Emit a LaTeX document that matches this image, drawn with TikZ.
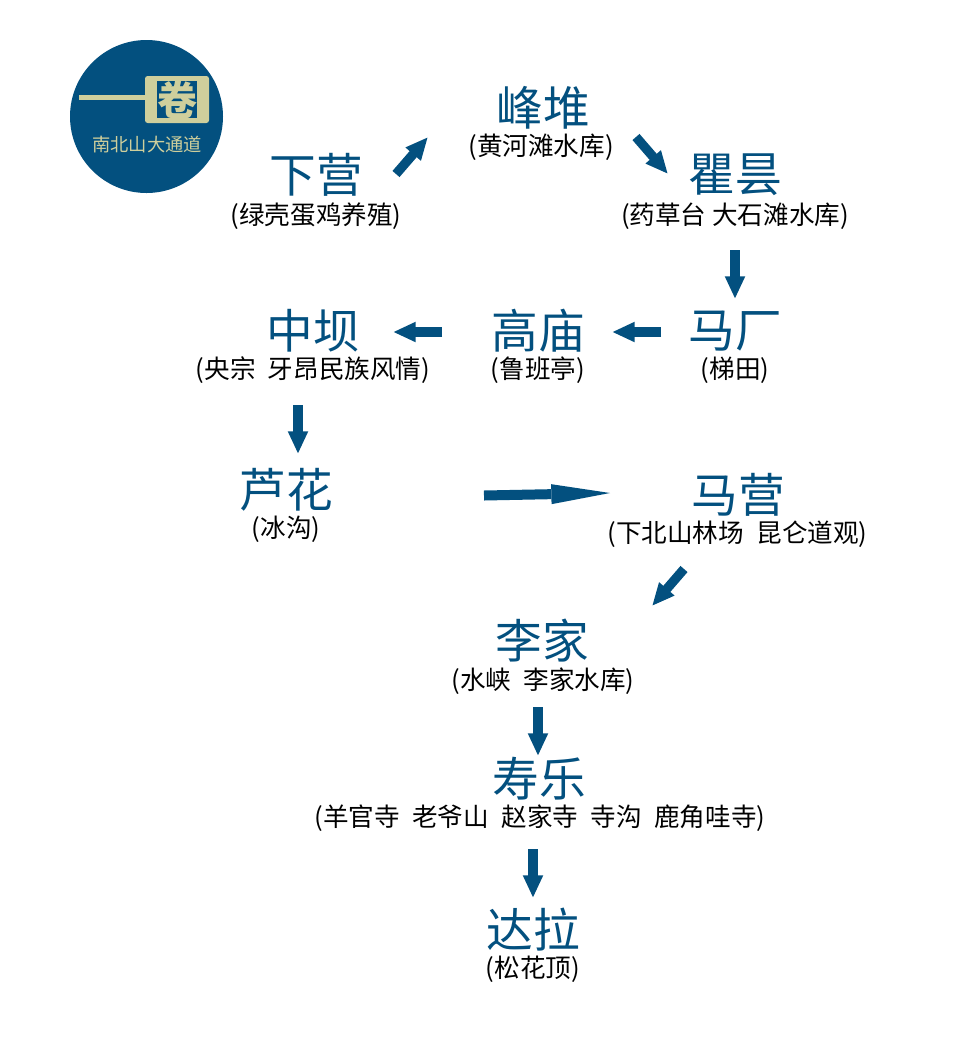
\documentclass[tikz,border=0pt]{standalone}
\usepackage{fontspec}
\setmainfont{Noto Sans CJK SC}
\usetikzlibrary{calc,positioning,arrows.meta}
\definecolor{blueroad}{HTML}{03507F}
\definecolor{paleseal}{HTML}{CFCF9C}
\newcommand{\widegap}{\hspace{0.26em}}
\tikzset{
    stop/.style={text=blueroad, font=\fontsize{35}{35}\selectfont, inner sep=0pt},
    sub/.style={text=black, font=\fontsize{19.2}{19.2}\selectfont, inner sep=0pt},
    way/.style={-{Triangle[length=17pt,width=14pt]}, line width=7pt, draw=blueroad}
}
\begin{document}
\begin{tikzpicture}[x=0.75pt,y=-0.75pt]
    \useasboundingbox (0,0) rectangle (960,1040);
    % Badge top left
    \fill[blueroad] (146.5,116.5) circle (76.5);
    \fill[paleseal] (79,95) rectangle (145,100);
    \fill[paleseal, rounded corners=2pt] (145,76) rectangle (209,123);
    \fill[blueroad] (157,81) rectangle (197,118);
    \node[inner sep=0pt, text=paleseal, font=\fontsize{30}{30}\selectfont\bfseries] (seal) at (177,99.5) {卷};
    \node[inner sep=0pt, text=paleseal, font=\fontsize{13.7}{13.7}\selectfont] (badge) at (147,145) {南北山大通道};
    % Stops along the road
    \node[stop] (xiaying) at (316,175) {下营};
    \node[sub] (xiayingsub) at (316,216) {(绿壳蛋鸡养殖)};
    \node[stop] (fengdui) at (543,108) {峰堆};
    \node[sub] (fengduisub) at (541,147) {(黄河滩水库)};
    \node[stop] (qutan) at (735,175) {瞿昙};
    \node[sub] (qutansub) at (735,216) {(药草台 大石滩水库)};
    \node[stop] (machang) at (735,331) {马厂};
    \node[sub] (machangsub) at (735,370) {(梯田)};
    \node[stop] (gaomiao) at (538,331) {高庙};
    \node[sub] (gaomiaosub) at (538,370) {(鲁班亭)};
    \node[stop] (zhongba) at (313,331) {中坝};
    \node[sub] (zhongbasub) at (313,370) {(央宗 \widegap 牙昂民族风情)};
    \node[stop] (luhua) at (286,490) {芦花};
    \node[sub] (luhuasub) at (286,529) {(冰沟)};
    \node[stop] (maying) at (738,495) {马营};
    \node[sub] (mayingsub) at (737.5,534) {(下北山林场 \widegap 昆仑道观)};
    \node[stop] (lijia) at (542,641) {李家};
    \node[sub] (lijiasub) at (543,681) {(水峡 \widegap 李家水库)};
    \node[stop] (shoule) at (539,779) {寿乐};
    \node[sub] (shoulesub) at (540,818) {(羊官寺 \widegap 老爷山 \widegap 赵家寺 \widegap 寺沟 \widegap 鹿角哇寺)};
    \node[stop] (dala) at (533,930) {达拉};
    \node[sub] (dalasub) at (533,969) {(松花顶)};
    % Free ends of the arrows
    \coordinate (a1) at (396,174); \coordinate (a2) at (428,137);
    \coordinate (b1) at (636,137); \coordinate (b2) at (668,174);
    \coordinate (c1) at (735,250); \coordinate (c2) at (735,299);
    \coordinate (d1) at (661,332); \coordinate (d2) at (612,332);
    \coordinate (e1) at (442,332); \coordinate (e2) at (393,332);
    \coordinate (f1) at (298,405); \coordinate (f2) at (298,454);
    \coordinate (h1) at (684,569); \coordinate (h2) at (652,606);
    \coordinate (i1) at (538,707); \coordinate (i2) at (538,756);
    \coordinate (j1) at (533,849); \coordinate (j2) at (533,898);
    \foreach \s/\t in {a1/a2,b1/b2,c1/c2,d1/d2,e1/e2,f1/f2,h1/h2,i1/i2,j1/j2} {
        \draw[way] (\s) -- (\t);
    }
    % The long one
    \coordinate (g1) at (484,495.5); \coordinate (g2) at (610,493);
    \draw[way, -{Triangle[length=44pt,width=15pt,line width=0pt]}, line width=7.5pt] (g1) -- (g2);
\end{tikzpicture}
\end{document}
